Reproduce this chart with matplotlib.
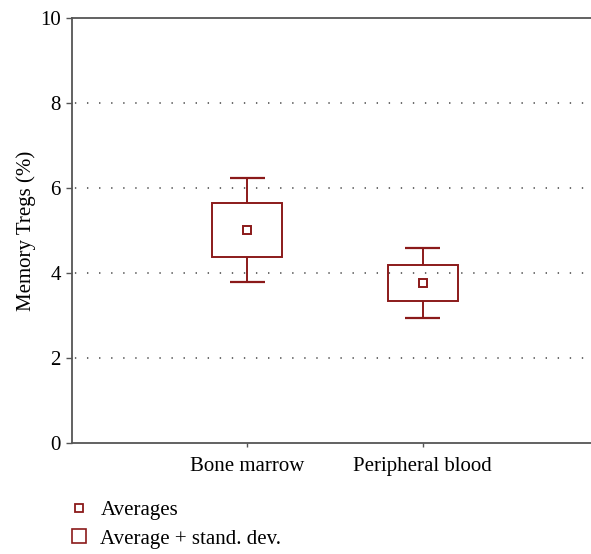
import matplotlib.pyplot as plt
from matplotlib.lines import Line2D

plt.rcParams['font.family'] = ['Liberation Serif', 'DejaVu Serif']

# data
groups = ['Bone marrow', 'Peripheral blood']
averages = [5.01, 3.77]
box_low = [4.38, 3.35]
box_high = [5.64, 4.20]
whisk_low = [3.78, 2.94]
whisk_high = [6.24, 4.60]

red = '#8b1a1a'
pos = [1, 2]

fig = plt.figure(figsize=(5.91, 5.54), dpi=100)
ax = fig.add_axes([72/591, 111/554, 1 - 72/591, 425/554])

for y in [2, 4, 6, 8]:
    ax.axhline(y, color='#444444', lw=1.1, ls=(6, (0.9, 7)), zorder=0)

for i, x in enumerate(pos):
    ax.bar(x, box_high[i] - box_low[i], bottom=box_low[i], width=0.4,
           fill=False, edgecolor=red, lw=1.4, zorder=3)
    ax.vlines(x, box_high[i], whisk_high[i], color=red, lw=1.4)
    ax.vlines(x, whisk_low[i], box_low[i], color=red, lw=1.4)
    ax.hlines([whisk_low[i], whisk_high[i]], x - 0.1, x + 0.1, color=red, lw=1.6)
ax.plot(pos, averages, 's', ms=6, mfc='white', mec=red, mew=1.4, ls='none', zorder=4)

ax.set_xlim(0, 2.96)
ax.set_ylim(0, 10)
ax.set_yticks([0, 2, 4, 6, 8, 10])
ax.set_xticks(pos)
ax.set_xticklabels(groups)
ax.tick_params(axis='y', length=4, width=1, color='#555555', labelsize=15, pad=4)
ax.tick_params(axis='x', length=3, width=1, color='#555555', labelsize=15, pad=7)
ax.set_ylabel('Memory Tregs (%)', fontsize=15, labelpad=3)
for s in ['left', 'bottom', 'top']:
    ax.spines[s].set_color('#555555')
    ax.spines[s].set_linewidth(1.3)
ax.spines['right'].set_visible(False)

handles = [Line2D([], [], marker='s', ls='none', ms=5.5, mfc='white', mec=red, mew=1.3),
           Line2D([], [], marker='s', ls='none', ms=10.5, mfc='white', mec=red, mew=1.2)]
fig.legend(handles, ['Averages', 'Average + stand. dev.'], loc='upper left',
           bbox_to_anchor=(0.08, 0.13), frameon=False, fontsize=15,
           handletextpad=0.45, labelspacing=0.42, handlelength=1.2)

fig.savefig('out.png', dpi=100)
